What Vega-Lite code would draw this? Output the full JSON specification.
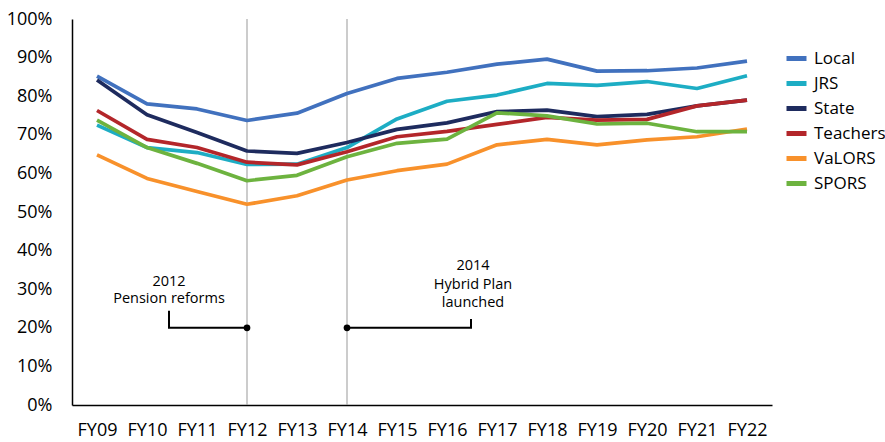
{
  "$schema": "https://vega.github.io/schema/vega-lite/v6.json",
  "width": 700,
  "height": 386,
  "autosize": "none",
  "padding": {"left": 72, "top": 19, "right": 113, "bottom": 37},
  "config": {
    "font": "Open Sans",
    "view": {"stroke": null},
    "axis": {"grid": false, "ticks": false, "domainColor": "#000000", "domainWidth": 1.5, "labelColor": "#000000", "labelFontSize": 18, "title": null, "labelOverlap": false}
  },
  "datasets": {
    "funded": [
      {"year": 2009, "series": "Local", "value": 85.2},
      {"year": 2010, "series": "Local", "value": 78.0},
      {"year": 2011, "series": "Local", "value": 76.7},
      {"year": 2012, "series": "Local", "value": 73.7},
      {"year": 2013, "series": "Local", "value": 75.6},
      {"year": 2014, "series": "Local", "value": 80.7},
      {"year": 2015, "series": "Local", "value": 84.6},
      {"year": 2016, "series": "Local", "value": 86.2},
      {"year": 2017, "series": "Local", "value": 88.3},
      {"year": 2018, "series": "Local", "value": 89.6},
      {"year": 2019, "series": "Local", "value": 86.5},
      {"year": 2020, "series": "Local", "value": 86.6},
      {"year": 2021, "series": "Local", "value": 87.3},
      {"year": 2022, "series": "Local", "value": 89.1},
      {"year": 2009, "series": "JRS", "value": 72.5},
      {"year": 2010, "series": "JRS", "value": 66.7},
      {"year": 2011, "series": "JRS", "value": 65.4},
      {"year": 2012, "series": "JRS", "value": 62.3},
      {"year": 2013, "series": "JRS", "value": 62.4},
      {"year": 2014, "series": "JRS", "value": 66.7},
      {"year": 2015, "series": "JRS", "value": 74.1},
      {"year": 2016, "series": "JRS", "value": 78.7},
      {"year": 2017, "series": "JRS", "value": 80.3},
      {"year": 2018, "series": "JRS", "value": 83.3},
      {"year": 2019, "series": "JRS", "value": 82.8},
      {"year": 2020, "series": "JRS", "value": 83.8},
      {"year": 2021, "series": "JRS", "value": 82.0},
      {"year": 2022, "series": "JRS", "value": 85.3},
      {"year": 2009, "series": "State", "value": 84.2},
      {"year": 2010, "series": "State", "value": 75.2},
      {"year": 2011, "series": "State", "value": 70.6},
      {"year": 2012, "series": "State", "value": 65.8},
      {"year": 2013, "series": "State", "value": 65.2},
      {"year": 2014, "series": "State", "value": 68.0},
      {"year": 2015, "series": "State", "value": 71.4},
      {"year": 2016, "series": "State", "value": 73.1},
      {"year": 2017, "series": "State", "value": 76.0},
      {"year": 2018, "series": "State", "value": 76.4},
      {"year": 2019, "series": "State", "value": 74.7},
      {"year": 2020, "series": "State", "value": 75.3},
      {"year": 2021, "series": "State", "value": 77.5},
      {"year": 2022, "series": "State", "value": 79.0},
      {"year": 2009, "series": "Teachers", "value": 76.3},
      {"year": 2010, "series": "Teachers", "value": 68.8},
      {"year": 2011, "series": "Teachers", "value": 66.7},
      {"year": 2012, "series": "Teachers", "value": 62.9},
      {"year": 2013, "series": "Teachers", "value": 62.2},
      {"year": 2014, "series": "Teachers", "value": 65.6},
      {"year": 2015, "series": "Teachers", "value": 69.5},
      {"year": 2016, "series": "Teachers", "value": 70.9},
      {"year": 2017, "series": "Teachers", "value": 72.7},
      {"year": 2018, "series": "Teachers", "value": 74.5},
      {"year": 2019, "series": "Teachers", "value": 73.8},
      {"year": 2020, "series": "Teachers", "value": 74.0},
      {"year": 2021, "series": "Teachers", "value": 77.5},
      {"year": 2022, "series": "Teachers", "value": 79.0},
      {"year": 2009, "series": "VaLORS", "value": 64.8},
      {"year": 2010, "series": "VaLORS", "value": 58.7},
      {"year": 2011, "series": "VaLORS", "value": 55.3},
      {"year": 2012, "series": "VaLORS", "value": 52.0},
      {"year": 2013, "series": "VaLORS", "value": 54.2},
      {"year": 2014, "series": "VaLORS", "value": 58.3},
      {"year": 2015, "series": "VaLORS", "value": 60.7},
      {"year": 2016, "series": "VaLORS", "value": 62.4},
      {"year": 2017, "series": "VaLORS", "value": 67.4},
      {"year": 2018, "series": "VaLORS", "value": 68.8},
      {"year": 2019, "series": "VaLORS", "value": 67.4},
      {"year": 2020, "series": "VaLORS", "value": 68.7},
      {"year": 2021, "series": "VaLORS", "value": 69.5},
      {"year": 2022, "series": "VaLORS", "value": 71.5},
      {"year": 2009, "series": "SPORS", "value": 73.8},
      {"year": 2010, "series": "SPORS", "value": 66.7},
      {"year": 2011, "series": "SPORS", "value": 62.6},
      {"year": 2012, "series": "SPORS", "value": 58.1},
      {"year": 2013, "series": "SPORS", "value": 59.5},
      {"year": 2014, "series": "SPORS", "value": 64.3},
      {"year": 2015, "series": "SPORS", "value": 67.8},
      {"year": 2016, "series": "SPORS", "value": 68.9},
      {"year": 2017, "series": "SPORS", "value": 75.7},
      {"year": 2018, "series": "SPORS", "value": 74.9},
      {"year": 2019, "series": "SPORS", "value": 72.8},
      {"year": 2020, "series": "SPORS", "value": 73.0},
      {"year": 2021, "series": "SPORS", "value": 70.8},
      {"year": 2022, "series": "SPORS", "value": 70.8}
    ],
    "vlines": [{"year": 2012, "value": 0, "value2": 100}, {"year": 2014, "value": 0, "value2": 100}],
    "connectors": [
      {"group": "a", "ord": 1, "year": 2010.44, "value": 24.4},
      {"group": "a", "ord": 2, "year": 2010.44, "value": 20},
      {"group": "a", "ord": 3, "year": 2012, "value": 20},
      {"group": "b", "ord": 1, "year": 2014, "value": 20},
      {"group": "b", "ord": 2, "year": 2016.48, "value": 20},
      {"group": "b", "ord": 3, "year": 2016.48, "value": 22.3}
    ],
    "dots": [{"year": 2012, "value": 20}, {"year": 2014, "value": 20}],
    "labelsA": [
      {"year": 2010.44, "value": 31.8, "text": ["2012", "Pension reforms"]}
    ],
    "labelsB": [
      {"year": 2016.52, "value": 36.0, "text": ["2014", "Hybrid Plan", "launched"]}
    ]
  },
  "encoding": {
    "x": {"field": "year", "type": "quantitative", "scale": {"domain": [2008.5, 2022.5], "nice": false, "zero": false},
      "axis": {"values": [2009, 2010, 2011, 2012, 2013, 2014, 2015, 2016, 2017, 2018, 2019, 2020, 2021, 2022], "labelExpr": "'FY' + format(datum.value - 2000, '02d')", "labelPadding": 16, "labelFontSize": 18, "labelOverlap": false}},
    "y": {"field": "value", "type": "quantitative", "scale": {"domain": [0, 100], "nice": false},
      "axis": {"values": [0, 10, 20, 30, 40, 50, 60, 70, 80, 90, 100], "labelExpr": "datum.value + '%'", "labelPadding": 20, "labelFontSize": 18, "labelOverlap": false}}
  },
  "layer": [
    {
      "data": {"name": "vlines"},
      "mark": {"type": "rule", "color": "#999999", "strokeWidth": 1},
      "encoding": {
        "y2": {"field": "value2"}
      }
    },
    {
      "data": {"name": "funded"},
      "mark": {"type": "line", "strokeWidth": 3.7, "strokeJoin": "round"},
      "encoding": {
        "color": {
          "field": "series", "type": "nominal",
          "scale": {"domain": ["Local", "JRS", "State", "Teachers", "VaLORS", "SPORS"], "range": ["#4171BE", "#1DADC4", "#1E2B5E", "#B3262A", "#F8912B", "#6DB33F"]},
          "legend": {"title": null, "orient": "none", "legendX": 712, "legendY": 27, "symbolType": "stroke", "symbolStrokeWidth": 5, "symbolSize": 400, "labelFontSize": 17, "labelColor": "#000000", "rowPadding": 2, "labelOffset": 5}
        },
        "order": {"field": "year"}
      }
    },
    {
      "data": {"name": "connectors"},
      "mark": {"type": "line", "color": "#000000", "strokeWidth": 2},
      "encoding": {
        "detail": {"field": "group"},
        "order": {"field": "ord"}
      }
    },
    {
      "data": {"name": "dots"},
      "mark": {"type": "point", "filled": true, "color": "#000000", "size": 45, "opacity": 1}
    },
    {
      "data": {"name": "labelsA"},
      "mark": {"type": "text", "fontSize": 14.5, "lineHeight": 16.5, "color": "#000000", "align": "center", "baseline": "middle"},
      "encoding": {
        "text": {"field": "text"}
      }
    },
    {
      "data": {"name": "labelsB"},
      "mark": {"type": "text", "fontSize": 14.5, "lineHeight": 18.5, "color": "#000000", "align": "center", "baseline": "middle"},
      "encoding": {
        "text": {"field": "text"}
      }
    }
  ]
}
